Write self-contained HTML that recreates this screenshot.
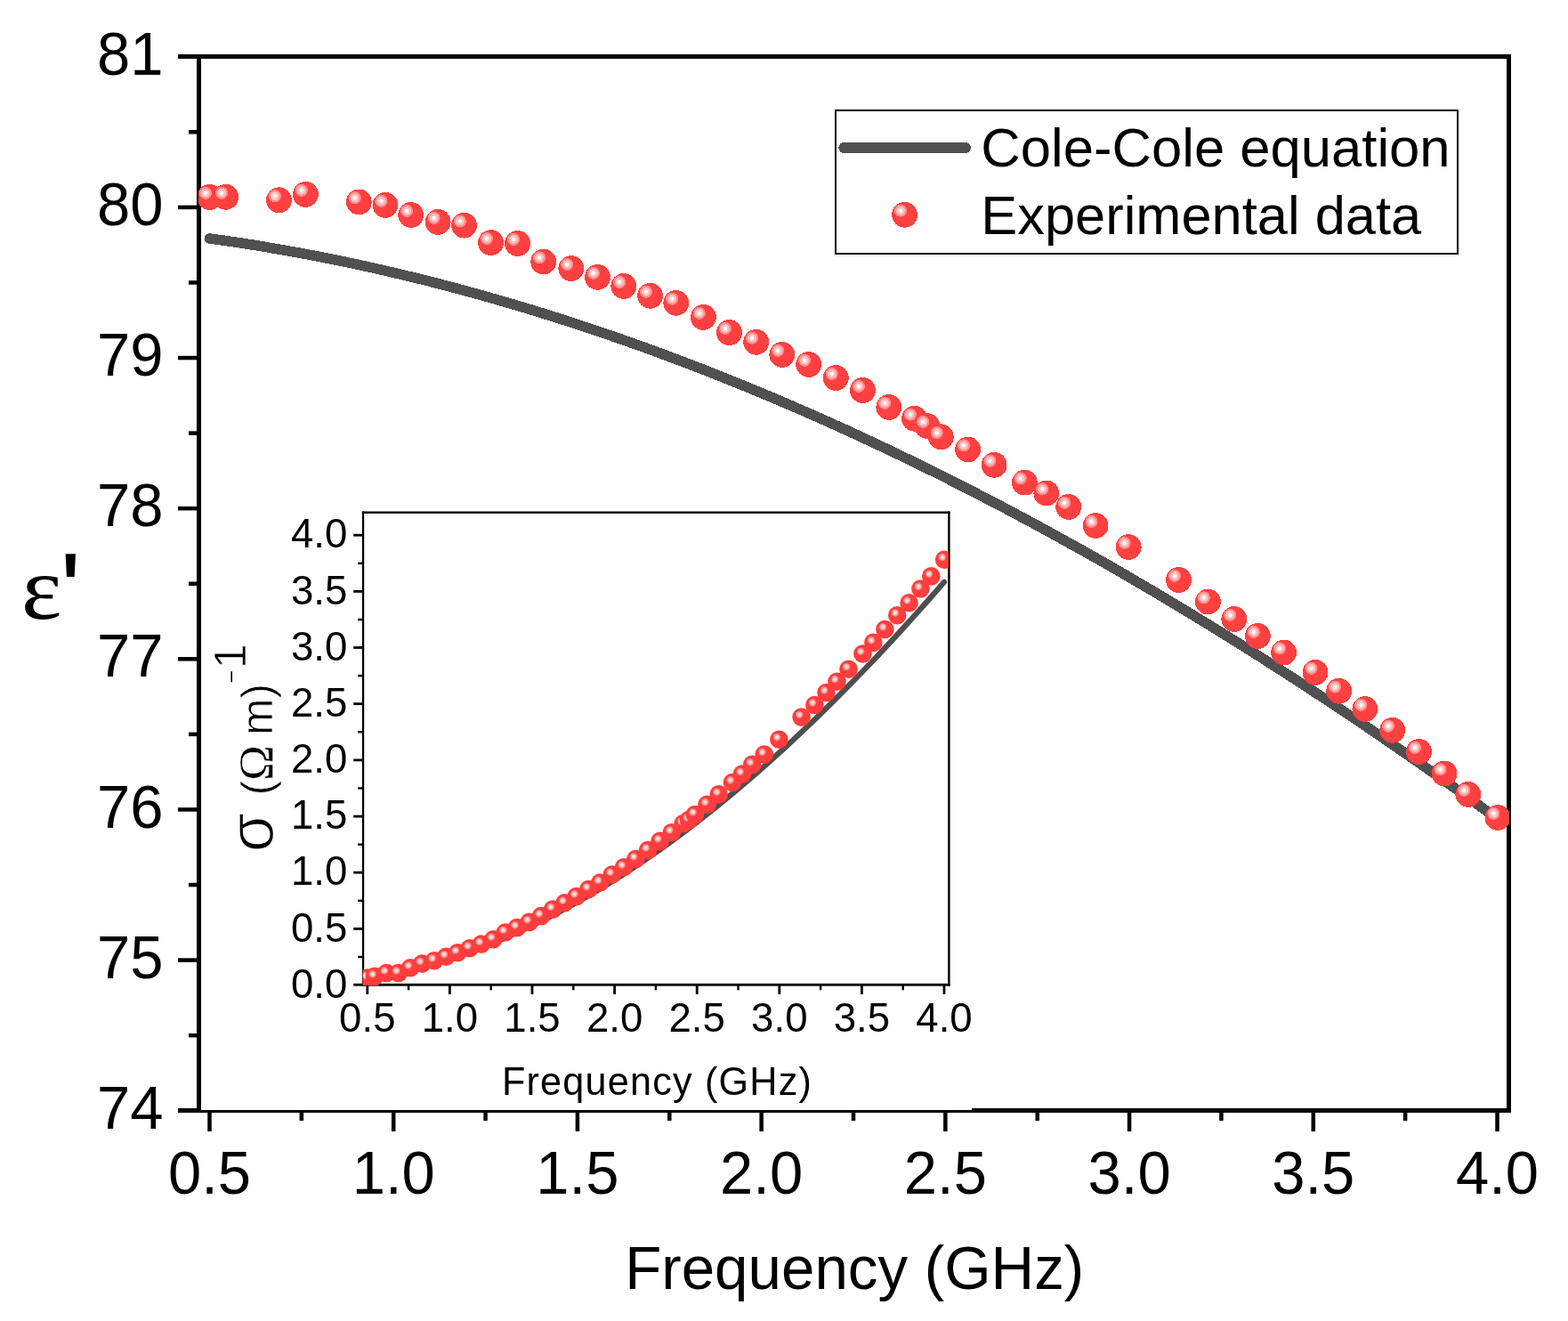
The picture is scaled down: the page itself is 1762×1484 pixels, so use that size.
<!DOCTYPE html>
<html lang="en"><head><meta charset="utf-8"><title>Cole-Cole equation vs experimental data</title>
<style>html,body{margin:0;padding:0;background:#fff}body{width:1762px;height:1484px;overflow:hidden}svg{display:block}text{font-family:"Liberation Sans", sans-serif;fill:#000}</style>
</head><body>
<svg width="1762" height="1484" viewBox="0 0 1762 1484" role="img" aria-label="Real permittivity versus frequency: Cole-Cole equation and experimental data, with conductivity inset">
<defs>
<radialGradient id="ball" cx="0.34" cy="0.34" r="0.25" fx="0.34" fy="0.34"><stop offset="0" stop-color="#fff"/><stop offset="0.24" stop-color="#fff"/><stop offset="0.34" stop-color="#ffc6c6"/><stop offset="0.62" stop-color="#ffc0c0"/><stop offset="0.72" stop-color="#ff9090"/><stop offset="0.94" stop-color="#ff8a8a"/><stop offset="1" stop-color="#ff4040"/></radialGradient>
<radialGradient id="sball" cx="0.385" cy="0.37" r="0.23" fx="0.385" fy="0.37"><stop offset="0" stop-color="#fff0f0"/><stop offset="0.3" stop-color="#ffd4d4"/><stop offset="0.7" stop-color="#ff9494"/><stop offset="1" stop-color="#ff3c3c"/></radialGradient>
<filter id="soft" x="-5%" y="-5%" width="110%" height="110%"><feGaussianBlur stdDeviation="0.45"/></filter>
<clipPath id="mclip"><rect x="223" y="66" width="1473" height="1179"/></clipPath>
<clipPath id="iclip"><rect x="407.6" y="575.7" width="658.2" height="531.2"/></clipPath>
</defs>
<rect width="1762" height="1484" fill="#fff"/>
<g fill="#000" shape-rendering="crispEdges">
<rect x="200" y="61" width="1498" height="5"/>
<rect x="200" y="1245" width="1498" height="5"/>
<rect x="221" y="61" width="5" height="1189"/>
<rect x="1693" y="61" width="5" height="1189"/>
</g>
<g fill="#000">
<rect x="200" y="230.64" width="21.5" height="4.5"/>
<rect x="200" y="399.79" width="21.5" height="4.5"/>
<rect x="200" y="568.93" width="21.5" height="4.5"/>
<rect x="200" y="738.07" width="21.5" height="4.5"/>
<rect x="200" y="907.21" width="21.5" height="4.5"/>
<rect x="200" y="1076.36" width="21.5" height="4.5"/>
<rect x="212" y="146.07" width="9.5" height="4.5"/>
<rect x="212" y="315.21" width="9.5" height="4.5"/>
<rect x="212" y="484.36" width="9.5" height="4.5"/>
<rect x="212" y="653.50" width="9.5" height="4.5"/>
<rect x="212" y="822.64" width="9.5" height="4.5"/>
<rect x="212" y="991.79" width="9.5" height="4.5"/>
<rect x="212" y="1160.93" width="9.5" height="4.5"/>
<rect x="233.25" y="1249.5" width="4.5" height="21.5"/>
<rect x="439.97" y="1249.5" width="4.5" height="21.5"/>
<rect x="646.68" y="1249.5" width="4.5" height="21.5"/>
<rect x="853.39" y="1249.5" width="4.5" height="21.5"/>
<rect x="1060.11" y="1249.5" width="4.5" height="21.5"/>
<rect x="1266.83" y="1249.5" width="4.5" height="21.5"/>
<rect x="1473.54" y="1249.5" width="4.5" height="21.5"/>
<rect x="1680.26" y="1249.5" width="4.5" height="21.5"/>
<rect x="336.61" y="1249.5" width="4.5" height="9.5"/>
<rect x="543.32" y="1249.5" width="4.5" height="9.5"/>
<rect x="750.04" y="1249.5" width="4.5" height="9.5"/>
<rect x="956.75" y="1249.5" width="4.5" height="9.5"/>
<rect x="1163.47" y="1249.5" width="4.5" height="9.5"/>
<rect x="1370.18" y="1249.5" width="4.5" height="9.5"/>
<rect x="1576.90" y="1249.5" width="4.5" height="9.5"/>
</g>
<g font-size="67" text-anchor="end">
<text transform="translate(183.6 83.8) scale(1 1.035)">81</text>
<text transform="translate(183.6 252.9) scale(1 1.035)">80</text>
<text transform="translate(183.6 422.1) scale(1 1.035)">79</text>
<text transform="translate(183.6 591.2) scale(1 1.035)">78</text>
<text transform="translate(183.6 760.4) scale(1 1.035)">77</text>
<text transform="translate(183.6 929.5) scale(1 1.035)">76</text>
<text transform="translate(183.6 1098.7) scale(1 1.035)">75</text>
<text transform="translate(183.6 1267.8) scale(1 1.035)">74</text>
</g>
<g font-size="67" text-anchor="middle">
<text transform="translate(235.5 1340.8) scale(1 1.035)">0.5</text>
<text transform="translate(442.2 1340.8) scale(1 1.035)">1.0</text>
<text transform="translate(648.9 1340.8) scale(1 1.035)">1.5</text>
<text transform="translate(855.6 1340.8) scale(1 1.035)">2.0</text>
<text transform="translate(1062.4 1340.8) scale(1 1.035)">2.5</text>
<text transform="translate(1269.1 1340.8) scale(1 1.035)">3.0</text>
<text transform="translate(1475.8 1340.8) scale(1 1.035)">3.5</text>
<text transform="translate(1682.5 1340.8) scale(1 1.035)">4.0</text>
</g>
<text transform="translate(960.2 1448.3) scale(1 1.02)" font-size="67.3" text-anchor="middle">Frequency (GHz)</text>
<text transform="translate(24.1 695.2) scale(1.07 1)" font-size="101"><tspan style="font-family:'Liberation Serif', 'DejaVu Serif', serif">ε</tspan><tspan font-size="117.9" dx="-2.1" dy="8.5">'</tspan></text>
<rect x="226" y="560" width="866" height="687" fill="#fff"/>
<path d="M235.5 268.0 L247.7 269.6 L259.8 271.4 L272.0 273.2 L284.1 275.1 L296.3 277.1 L308.5 279.2 L320.6 281.3 L332.8 283.5 L344.9 285.7 L357.1 288.0 L369.3 290.4 L381.4 292.9 L393.6 295.4 L405.7 298.1 L417.9 300.7 L430.1 303.5 L442.2 306.3 L454.4 309.2 L466.5 312.1 L478.7 315.1 L490.9 318.2 L503.0 321.4 L515.2 324.6 L527.3 327.9 L539.5 331.2 L551.7 334.7 L563.8 338.2 L576.0 341.7 L588.1 345.3 L600.3 349.0 L612.4 352.8 L624.6 356.6 L636.8 360.5 L648.9 364.5 L661.1 368.5 L673.2 372.6 L685.4 376.7 L697.6 380.9 L709.7 385.2 L721.9 389.5 L734.0 393.9 L746.2 398.4 L758.4 403.0 L770.5 407.6 L782.7 412.2 L794.8 416.9 L807.0 421.7 L819.2 426.6 L831.3 431.5 L843.5 436.5 L855.6 441.5 L867.8 446.6 L880.0 451.8 L892.1 457.0 L904.3 462.3 L916.4 467.6 L928.6 473.0 L940.8 478.5 L952.9 484.0 L965.1 489.6 L977.2 495.3 L989.4 501.0 L1001.6 506.8 L1013.7 512.6 L1025.9 518.5 L1038.0 524.4 L1050.2 530.4 L1062.4 536.5 L1074.5 542.6 L1086.7 548.8 L1098.8 555.1 L1111.0 561.4 L1123.2 567.7 L1135.3 574.1 L1147.5 580.6 L1159.6 587.1 L1171.8 593.7 L1184.0 600.4 L1196.1 607.1 L1208.3 613.8 L1220.4 620.6 L1232.6 627.5 L1244.8 634.4 L1256.9 641.4 L1269.1 648.5 L1281.2 655.6 L1293.4 662.7 L1305.6 669.9 L1317.7 677.2 L1329.9 684.5 L1342.0 691.9 L1354.2 699.3 L1366.3 706.8 L1378.5 714.3 L1390.7 721.9 L1402.8 729.5 L1415.0 737.2 L1427.1 745.0 L1439.3 752.8 L1451.5 760.6 L1463.6 768.5 L1475.8 776.5 L1487.9 784.5 L1500.1 792.6 L1512.3 800.7 L1524.4 808.8 L1536.6 817.0 L1548.7 825.3 L1560.9 833.6 L1573.1 842.0 L1585.2 850.4 L1597.4 858.9 L1609.5 867.4 L1621.7 876.0 L1633.9 884.6 L1646.0 893.3 L1658.2 902.0 L1670.3 910.8 L1682.5 919.6" fill="none" stroke="#505050" stroke-width="11.5" stroke-linecap="round" stroke-linejoin="round" shape-rendering="crispEdges"/>
<g clip-path="url(#mclip)" fill="url(#ball)" shape-rendering="crispEdges">
<circle cx="235.5" cy="221.5" r="14.4"/>
<circle cx="253.7" cy="221.3" r="14.4"/>
<circle cx="313.5" cy="224.8" r="14.4"/>
<circle cx="343.4" cy="218.4" r="14.4"/>
<circle cx="403.3" cy="226.9" r="14.4"/>
<circle cx="433.0" cy="230.4" r="14.4"/>
<circle cx="461.7" cy="241.5" r="14.4"/>
<circle cx="492.2" cy="249.4" r="14.4"/>
<circle cx="521.5" cy="253.1" r="14.4"/>
<circle cx="551.6" cy="272.6" r="14.4"/>
<circle cx="581.6" cy="273.5" r="14.4"/>
<circle cx="610.7" cy="294.0" r="14.4"/>
<circle cx="641.8" cy="301.6" r="14.4"/>
<circle cx="671.5" cy="311.4" r="14.4"/>
<circle cx="700.8" cy="321.5" r="14.4"/>
<circle cx="730.6" cy="332.3" r="14.4"/>
<circle cx="759.8" cy="340.3" r="14.4"/>
<circle cx="790.4" cy="356.4" r="14.4"/>
<circle cx="819.5" cy="373.6" r="14.4"/>
<circle cx="849.7" cy="384.3" r="14.4"/>
<circle cx="878.8" cy="398.4" r="14.4"/>
<circle cx="908.7" cy="409.4" r="14.4"/>
<circle cx="939.3" cy="424.5" r="14.4"/>
<circle cx="969.5" cy="438.5" r="14.4"/>
<circle cx="998.8" cy="457.4" r="14.4"/>
<circle cx="1027.5" cy="470.2" r="14.4"/>
<circle cx="1041.8" cy="478.5" r="14.4"/>
<circle cx="1057.3" cy="490.8" r="14.4"/>
<circle cx="1087.6" cy="505.0" r="14.4"/>
<circle cx="1117.1" cy="522.3" r="14.4"/>
<circle cx="1151.3" cy="542.1" r="14.4"/>
<circle cx="1175.8" cy="554.0" r="14.4"/>
<circle cx="1200.7" cy="569.4" r="14.4"/>
<circle cx="1231.1" cy="590.5" r="14.4"/>
<circle cx="1268.2" cy="614.5" r="14.4"/>
<circle cx="1324.5" cy="651.5" r="14.4"/>
<circle cx="1357.4" cy="676.0" r="14.4"/>
<circle cx="1386.8" cy="695.5" r="14.4"/>
<circle cx="1413.4" cy="714.5" r="14.4"/>
<circle cx="1442.6" cy="733.0" r="14.4"/>
<circle cx="1478.1" cy="755.4" r="14.4"/>
<circle cx="1504.7" cy="776.3" r="14.4"/>
<circle cx="1533.9" cy="796.5" r="14.4"/>
<circle cx="1564.7" cy="820.3" r="14.4"/>
<circle cx="1594.5" cy="844.5" r="14.4"/>
<circle cx="1623.1" cy="869.0" r="14.4"/>
<circle cx="1649.8" cy="892.4" r="14.4"/>
<circle cx="1683.0" cy="918.5" r="14.4"/>
</g>
<rect x="939" y="124" width="699" height="161" fill="#fff" stroke="#000" stroke-width="2"/>
<path d="M948.3 166 L1085 166" stroke="#505050" stroke-width="12" stroke-linecap="round" fill="none" shape-rendering="crispEdges"/>
<circle cx="1016.6" cy="241.3" r="14.4" fill="url(#ball)" shape-rendering="crispEdges"/>
<text x="1102.3" y="187.3" font-size="61.6">Cole-Cole equation</text>
<text x="1102.3" y="262.8" font-size="61.4">Experimental data</text>
<g id="inset" stroke="#fff" stroke-width="0">
<g fill="#000">
<rect x="406.9" y="574.5" width="660.7" height="2.4"/>
<rect x="397.2" y="1104.9" width="670.4" height="2.8"/>
<rect x="406.9" y="574.5" width="2.3" height="533.2"/>
<rect x="1065.2" y="574.5" width="2.4" height="533.2"/>
<rect x="397.2" y="1042.0" width="10.8" height="2.8"/>
<rect x="397.2" y="978.8" width="10.8" height="2.8"/>
<rect x="397.2" y="915.7" width="10.8" height="2.8"/>
<rect x="397.2" y="852.5" width="10.8" height="2.8"/>
<rect x="397.2" y="789.3" width="10.8" height="2.8"/>
<rect x="397.2" y="726.1" width="10.8" height="2.8"/>
<rect x="397.2" y="663.0" width="10.8" height="2.8"/>
<rect x="397.2" y="599.8" width="10.8" height="2.8"/>
<rect x="402.2" y="1073.8" width="5.8" height="2.4"/>
<rect x="402.2" y="1010.6" width="5.8" height="2.4"/>
<rect x="402.2" y="947.5" width="5.8" height="2.4"/>
<rect x="402.2" y="884.3" width="5.8" height="2.4"/>
<rect x="402.2" y="821.1" width="5.8" height="2.4"/>
<rect x="402.2" y="757.9" width="5.8" height="2.4"/>
<rect x="402.2" y="694.8" width="5.8" height="2.4"/>
<rect x="402.2" y="631.6" width="5.8" height="2.4"/>
<rect x="411.4" y="1106.3" width="2.8" height="10.6"/>
<rect x="504.0" y="1106.3" width="2.8" height="10.6"/>
<rect x="596.6" y="1106.3" width="2.8" height="10.6"/>
<rect x="689.2" y="1106.3" width="2.8" height="10.6"/>
<rect x="781.8" y="1106.3" width="2.8" height="10.6"/>
<rect x="874.4" y="1106.3" width="2.8" height="10.6"/>
<rect x="967.0" y="1106.3" width="2.8" height="10.6"/>
<rect x="1059.6" y="1106.3" width="2.8" height="10.6"/>
<rect x="457.9" y="1106.3" width="2.4" height="6"/>
<rect x="550.5" y="1106.3" width="2.4" height="6"/>
<rect x="643.1" y="1106.3" width="2.4" height="6"/>
<rect x="735.7" y="1106.3" width="2.4" height="6"/>
<rect x="828.3" y="1106.3" width="2.4" height="6"/>
<rect x="920.9" y="1106.3" width="2.4" height="6"/>
<rect x="1013.5" y="1106.3" width="2.4" height="6"/>
</g>
<path d="M412.8 1099.1 L421.0 1097.7 L429.2 1096.2 L437.4 1094.6 L445.6 1092.9 L453.8 1091.0 L462.0 1089.1 L470.2 1087.0 L478.4 1084.8 L486.6 1082.5 L494.9 1080.0 L503.1 1077.5 L511.3 1074.8 L519.5 1072.1 L527.7 1069.2 L535.9 1066.2 L544.1 1063.0 L552.3 1059.8 L560.5 1056.5 L568.7 1053.0 L576.9 1049.4 L585.1 1045.7 L593.3 1041.9 L601.5 1038.0 L609.7 1034.0 L617.9 1029.9 L626.1 1025.6 L634.3 1021.3 L642.5 1016.8 L650.7 1012.2 L659.0 1007.6 L667.2 1002.8 L675.4 997.9 L683.6 992.8 L691.8 987.7 L700.0 982.5 L708.2 977.2 L716.4 971.7 L724.6 966.2 L732.8 960.5 L741.0 954.8 L749.2 948.9 L757.4 942.9 L765.6 936.9 L773.8 930.7 L782.0 924.4 L790.2 918.0 L798.4 911.6 L806.6 905.0 L814.8 898.3 L823.1 891.5 L831.3 884.6 L839.5 877.6 L847.7 870.6 L855.9 863.4 L864.1 856.1 L872.3 848.7 L880.5 841.3 L888.7 833.7 L896.9 826.0 L905.1 818.3 L913.3 810.4 L921.5 802.5 L929.7 794.5 L937.9 786.3 L946.1 778.1 L954.3 769.8 L962.5 761.4 L970.7 752.9 L978.9 744.3 L987.2 735.7 L995.4 726.9 L1003.6 718.1 L1011.8 709.1 L1020.0 700.1 L1028.2 691.0 L1036.4 681.9 L1044.6 672.6 L1052.8 663.2 L1061.0 653.8" fill="none" stroke="#4e4e4e" stroke-width="6.3" stroke-linecap="round" stroke-linejoin="round"/>
<g clip-path="url(#iclip)"><g fill="url(#sball)" filter="url(#soft)">
<circle cx="412.8" cy="1098.6" r="10.3"/>
<circle cx="421.0" cy="1096.9" r="10.3"/>
<circle cx="434.3" cy="1093.1" r="10.3"/>
<circle cx="447.7" cy="1093.1" r="10.3"/>
<circle cx="461.1" cy="1087.2" r="10.3"/>
<circle cx="474.3" cy="1082.6" r="10.3"/>
<circle cx="488.0" cy="1079.2" r="10.3"/>
<circle cx="501.3" cy="1074.8" r="10.3"/>
<circle cx="514.1" cy="1070.3" r="10.3"/>
<circle cx="527.8" cy="1065.2" r="10.3"/>
<circle cx="540.9" cy="1060.6" r="10.3"/>
<circle cx="554.4" cy="1055.3" r="10.3"/>
<circle cx="567.8" cy="1047.5" r="10.3"/>
<circle cx="580.9" cy="1042.1" r="10.3"/>
<circle cx="594.8" cy="1035.9" r="10.3"/>
<circle cx="608.1" cy="1029.1" r="10.3"/>
<circle cx="621.2" cy="1021.6" r="10.3"/>
<circle cx="634.6" cy="1014.3" r="10.3"/>
<circle cx="647.7" cy="1007.0" r="10.3"/>
<circle cx="661.4" cy="999.0" r="10.3"/>
<circle cx="674.4" cy="991.5" r="10.3"/>
<circle cx="687.9" cy="982.5" r="10.3"/>
<circle cx="701.0" cy="974.3" r="10.3"/>
<circle cx="714.4" cy="965.0" r="10.3"/>
<circle cx="728.1" cy="955.1" r="10.3"/>
<circle cx="741.6" cy="944.9" r="10.3"/>
<circle cx="754.7" cy="935.2" r="10.3"/>
<circle cx="767.6" cy="925.3" r="10.3"/>
<circle cx="774.0" cy="921.1" r="10.3"/>
<circle cx="780.9" cy="915.1" r="10.3"/>
<circle cx="794.5" cy="903.7" r="10.3"/>
<circle cx="807.7" cy="892.4" r="10.3"/>
<circle cx="823.0" cy="879.0" r="10.3"/>
<circle cx="834.0" cy="869.6" r="10.3"/>
<circle cx="845.2" cy="858.9" r="10.3"/>
<circle cx="858.8" cy="847.5" r="10.3"/>
<circle cx="875.4" cy="830.8" r="10.3"/>
<circle cx="900.6" cy="805.6" r="10.3"/>
<circle cx="915.4" cy="792.0" r="10.3"/>
<circle cx="928.5" cy="778.0" r="10.3"/>
<circle cx="940.5" cy="765.7" r="10.3"/>
<circle cx="953.5" cy="751.7" r="10.3"/>
<circle cx="969.4" cy="734.5" r="10.3"/>
<circle cx="981.4" cy="721.9" r="10.3"/>
<circle cx="994.4" cy="707.0" r="10.3"/>
<circle cx="1008.2" cy="691.2" r="10.3"/>
<circle cx="1021.6" cy="677.2" r="10.3"/>
<circle cx="1034.4" cy="661.5" r="10.3"/>
<circle cx="1046.3" cy="647.4" r="10.3"/>
<circle cx="1061.2" cy="628.7" r="10.3"/>
</g></g>
<g font-size="44.5" text-anchor="end">
<text transform="translate(390.3 1120.8) scale(1.025 1.045)" x="0" y="0">0.0</text>
<text transform="translate(390.3 1057.6) scale(1.025 1.045)" x="0" y="0">0.5</text>
<text transform="translate(390.3 994.4) scale(1.025 1.045)" x="0" y="0">1.0</text>
<text transform="translate(390.3 931.3) scale(1.025 1.045)" x="0" y="0">1.5</text>
<text transform="translate(390.3 868.1) scale(1.025 1.045)" x="0" y="0">2.0</text>
<text transform="translate(390.3 804.9) scale(1.025 1.045)" x="0" y="0">2.5</text>
<text transform="translate(390.3 741.8) scale(1.025 1.045)" x="0" y="0">3.0</text>
<text transform="translate(390.3 678.6) scale(1.025 1.045)" x="0" y="0">3.5</text>
<text transform="translate(390.3 615.4) scale(1.025 1.045)" x="0" y="0">4.0</text>
</g>
<g font-size="44.5" text-anchor="middle">
<text transform="translate(412.8 1159.4) scale(1.025 1.045)" x="0" y="0">0.5</text>
<text transform="translate(505.4 1159.4) scale(1.025 1.045)" x="0" y="0">1.0</text>
<text transform="translate(598.0 1159.4) scale(1.025 1.045)" x="0" y="0">1.5</text>
<text transform="translate(690.6 1159.4) scale(1.025 1.045)" x="0" y="0">2.0</text>
<text transform="translate(783.2 1159.4) scale(1.025 1.045)" x="0" y="0">2.5</text>
<text transform="translate(875.8 1159.4) scale(1.025 1.045)" x="0" y="0">3.0</text>
<text transform="translate(968.4 1159.4) scale(1.025 1.045)" x="0" y="0">3.5</text>
<text transform="translate(1061.0 1159.4) scale(1.025 1.045)" x="0" y="0">4.0</text>
</g>
<text transform="translate(563.9 1230.0) scale(1 1.03)" x="0" y="0" font-size="43.2" letter-spacing="1.2">Frequency (GHz)</text>
<g transform="translate(306.6 956.7) rotate(-90)">
<text x="-0.5" y="0.5" font-size="71.5" stroke="#fff" stroke-width="1.3" paint-order="fill stroke">σ <tspan x="63.2" y="-0.6" font-size="49.7" stroke-width="0.7">(</tspan><tspan font-size="54" stroke-width="0.5" style="font-family:'Liberation Serif', serif">Ω</tspan><tspan font-size="49.7" stroke-width="0.7" dx="-2.9"> m)</tspan></text>
<text transform="translate(188.2 -41.0) scale(1 0.42)" font-size="49.7">-</text>
<text x="205.8" y="-30.6" font-size="49.7" stroke="#fff" stroke-width="0.7">1</text>
</g>
</g>
</svg>
</body></html>
